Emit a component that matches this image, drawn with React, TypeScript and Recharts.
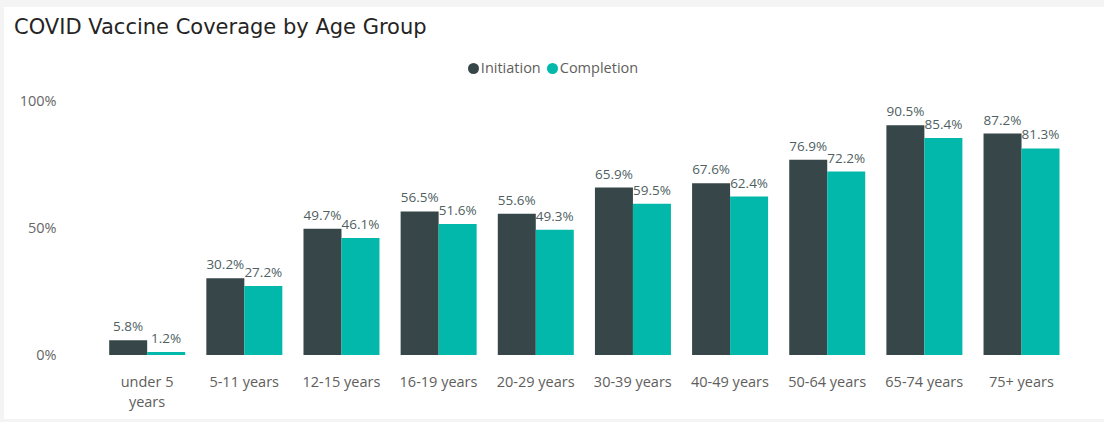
import React from "react";
import { BarChart, Bar, XAxis, YAxis, LabelList, Text } from "recharts";

const categories = [
  "under 5 years",
  "5-11 years",
  "12-15 years",
  "16-19 years",
  "20-29 years",
  "30-39 years",
  "40-49 years",
  "50-64 years",
  "65-74 years",
  "75+ years",
];
const initiation = [5.8, 30.2, 49.7, 56.5, 55.6, 65.9, 67.6, 76.9, 90.5, 87.2];
const completion = [1.2, 27.2, 46.1, 51.6, 49.3, 59.5, 62.4, 72.2, 85.4, 81.3];
const yTicks = [0, 50, 100];
const seriesNames = ["Initiation", "Completion"];

const data = categories.map((c, i) => ({
  group: c,
  Initiation: initiation[i],
  Completion: completion[i],
}));

const DARK = "#374649";
const TEAL = "#01B8AA";
const AXIS_FONT = "'Open Sans', sans-serif";
const DIN_FONT = "'DejaVu Sans', sans-serif";
const LABEL_FONT = "'Open Sans', sans-serif";

const XTick = (props: any) => {
  const { x, y, payload } = props;
  return (
    <Text
      x={x}
      y={y}
      width={84}
      textAnchor="middle"
      verticalAnchor="start"
      lineHeight={20}
      fill="#605E5C"
      fontSize={14.5}
      fontFamily={AXIS_FONT}
    >
      {payload.value}
    </Text>
  );
};

export default function App() {
  const colors = [DARK, TEAL];
  return (
    <div
      style={{
        position: "absolute",
        left: 0,
        top: 0,
        width: 1104,
        height: 422,
        background: "#F4F4F4",
        overflow: "hidden",
      }}
    >
      <div
        style={{
          position: "absolute",
          left: 4,
          top: 7,
          width: 1100,
          height: 412,
          background: "#FFFFFF",
        }}
      />
      <div
        style={{
          position: "absolute",
          left: 14,
          top: 15,
          fontFamily: DIN_FONT,
          fontSize: 21,
          color: "#252423",
          whiteSpace: "nowrap",
        }}
      >
        COVID Vaccine Coverage by Age Group
      </div>
      <div
        style={{
          position: "absolute",
          left: 0,
          top: 58,
          width: 1112,
          display: "flex",
          justifyContent: "center",
          fontFamily: AXIS_FONT,
          fontSize: 14.5,
          lineHeight: "20px",
          color: "#605E5C",
        }}
      >
        {seriesNames.map((n, i) => (
          <div key={n} style={{ display: "flex", alignItems: "center", marginRight: 6 }}>
            <span
              style={{
                display: "inline-block",
                width: 11,
                height: 11,
                borderRadius: "50%",
                background: colors[i],
                marginRight: 2,
              }}
            />
            <span>{n}</span>
          </div>
        ))}
      </div>
      <div style={{ position: "absolute", left: 0, top: 0 }}>
        <BarChart
          width={1104}
          height={422}
          data={data}
          margin={{ top: 101, right: 34, bottom: 0, left: 0 }}
          barCategoryGap="11%"
          barGap={0}
        >
          <YAxis
            width={98.5}
            domain={[0, 100]}
            ticks={yTicks}
            axisLine={false}
            tickLine={false}
            tickSize={0}
            tickMargin={42}
            tickFormatter={(v: number) => `${v}%`}
            tick={{ fill: "#666666", fontSize: 14.5, fontFamily: AXIS_FONT }}
          />
          <XAxis
            dataKey="group"
            axisLine={false}
            tickLine={false}
            tickSize={0}
            tickMargin={22}
            interval={0}
            tick={<XTick />}
            height={67}
          />
          <Bar dataKey="Initiation" fill={DARK} isAnimationActive={false}>
            <LabelList
              dataKey="Initiation"
              position="top"
              offset={9}
              formatter={(v: number) => `${v.toFixed(1)}%`}
              style={{ fill: "#4F5F62", fontSize: 13.5, fontFamily: LABEL_FONT }}
            />
          </Bar>
          <Bar dataKey="Completion" fill={TEAL} isAnimationActive={false}>
            <LabelList
              dataKey="Completion"
              position="top"
              offset={9}
              formatter={(v: number) => `${v.toFixed(1)}%`}
              style={{ fill: "#4F5F62", fontSize: 13.5, fontFamily: LABEL_FONT }}
            />
          </Bar>
        </BarChart>
      </div>
    </div>
  );
}
